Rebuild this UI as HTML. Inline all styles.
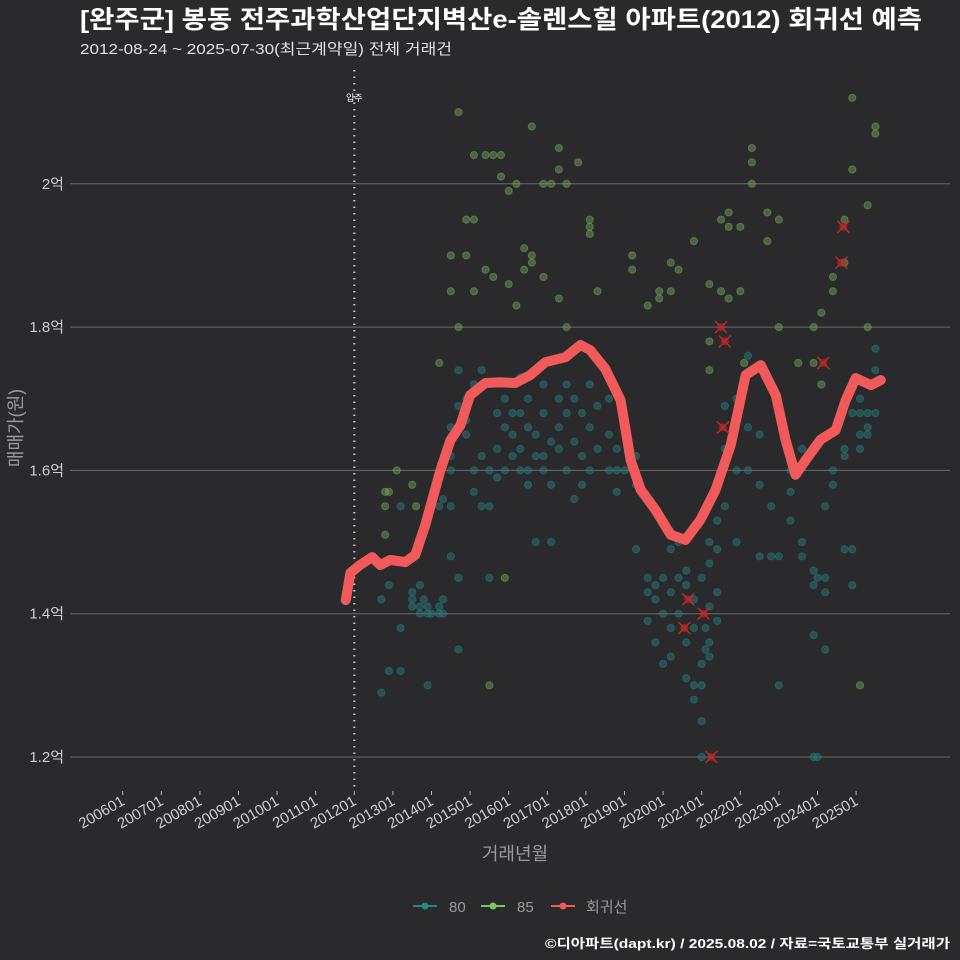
<!DOCTYPE html>
<html><head><meta charset="utf-8">
<style>
body{margin:0;background:#2a2a2c;}
svg{display:block;font-family:"Liberation Sans","Noto Sans CJK KR",sans-serif;}
</style></head>
<body>
<svg id="chart" width="960" height="960" viewBox="0 0 960 960">
<rect x="0" y="0" width="960" height="960" fill="#2a2a2c"/>
<text x="80" y="28" fill="#ffffff" font-size="25" font-weight="bold" textLength="842" lengthAdjust="spacingAndGlyphs">[완주군] 봉동 전주과학산업단지벽산e-솔렌스힐 아파트(2012) 회귀선 예측</text>
<text x="80" y="54" fill="#e0e0e0" font-size="15" textLength="372" lengthAdjust="spacingAndGlyphs">2012-08-24 ~ 2025-07-30(최근계약일) 전체 거래건</text>
<g id="grid"></g>
<g id="points"></g>
<g id="line"></g>
<g id="axes"></g>
<text transform="translate(22,428) rotate(-90)" text-anchor="middle" fill="#9a9a9a" font-size="18">매매가(원)</text>
<text x="515" y="860" text-anchor="middle" fill="#9a9a9a" font-size="18">거래년월</text>
<g>
 <g><line x1="413" y1="906" x2="437" y2="906" stroke="#2a8585" stroke-width="2"/><circle cx="425" cy="906" r="3.5" fill="#2a8585"/><text x="449" y="912" fill="#9a9a9a" font-size="15">80</text></g>
 <g><line x1="481" y1="906" x2="505" y2="906" stroke="#7cc460" stroke-width="2"/><circle cx="493" cy="906" r="3.5" fill="#7cc460"/><text x="517" y="912" fill="#9a9a9a" font-size="15">85</text></g>
 <g><line x1="551" y1="906" x2="575" y2="906" stroke="#f05a5a" stroke-width="2"/><circle cx="563" cy="906" r="3.5" fill="#f05a5a"/><text x="586" y="912" fill="#9a9a9a" font-size="15">회귀선</text></g>
</g>
<text x="950" y="948" text-anchor="end" fill="#ffffff" font-size="13" font-weight="bold" textLength="405" lengthAdjust="spacingAndGlyphs">©디아파트(dapt.kr) / 2025.08.02 / 자료=국토교통부 실거래가</text>
</svg>
<script>
const xTickLabels=["200601","200701","200801","200901","201001","201101","201201","201301","201401","201501","201601","201701","201801","201901","202001","202101","202201","202301","202401","202501"];
const yTicks=[1.2,1.4,1.6,1.8,2.0];
const yTickLabels=["1.2억","1.4억","1.6억","1.8억","2억"];
const moveInYear=2012.0;
const regYears=[2011.78,2011.9,2012.15,2012.46,2012.67,2012.93,2013.32,2013.58,2013.84,2014.23,2014.49,2014.75,2015.0,2015.4,2015.78,2016.17,2016.56,2016.95,2017.47,2017.86,2018.11,2018.5,2018.9,2019.16,2019.42,2019.8,2020.2,2020.58,2020.97,2021.36,2021.75,2022.14,2022.53,2022.92,2023.17,2023.43,2023.69,2024.08,2024.47,2024.73,2024.99,2025.38,2025.64];
const regValues=[1.419,1.457,1.468,1.479,1.468,1.475,1.472,1.482,1.524,1.6,1.642,1.663,1.705,1.722,1.723,1.722,1.733,1.751,1.758,1.775,1.768,1.742,1.698,1.614,1.573,1.545,1.51,1.503,1.531,1.573,1.635,1.733,1.747,1.705,1.643,1.594,1.614,1.643,1.656,1.698,1.729,1.719,1.726];
const area85=[[2012.8,1.55],[2012.8,1.57],[2012.8,1.51],[2013.1,1.6],[2013.5,1.58],[2013.6,1.55],[2014.2,1.75],[2014.5,1.9],[2014.5,1.85],[2014.7,2.1],[2014.7,1.8],[2014.9,1.95],[2014.9,1.9],[2015.1,2.04],[2015.1,1.95],[2015.1,1.85],[2015.4,2.04],[2015.4,1.88],[2015.6,2.04],[2015.6,1.87],[2015.8,2.04],[2015.8,2.01],[2016.0,1.99],[2016.0,1.86],[2016.2,1.83],[2016.2,2.0],[2016.4,1.91],[2016.4,1.88],[2016.6,2.08],[2016.6,1.9],[2016.6,1.89],[2016.9,2.0],[2016.9,1.87],[2017.1,2.0],[2017.3,2.05],[2017.3,2.02],[2017.3,1.84],[2017.5,2.0],[2017.5,1.8],[2017.8,2.03],[2018.1,1.95],[2018.1,1.94],[2018.1,1.93],[2018.3,1.85],[2019.2,1.9],[2019.2,1.88],[2019.6,1.83],[2019.9,1.85],[2019.9,1.84],[2020.2,1.89],[2020.2,1.85],[2020.4,1.88],[2020.8,1.92],[2021.2,1.86],[2021.2,1.74],[2021.2,1.78],[2021.5,1.95],[2021.5,1.85],[2021.7,1.96],[2021.7,1.94],[2021.7,1.84],[2022.0,1.85],[2022.0,1.94],[2022.3,2.0],[2022.3,2.05],[2022.3,2.03],[2022.7,1.92],[2022.7,1.96],[2023.0,1.95],[2023.0,1.8],[2023.5,1.75],[2023.9,1.75],[2023.9,1.8],[2024.1,1.82],[2024.1,1.72],[2024.4,1.85],[2024.4,1.87],[2024.7,1.95],[2024.7,1.89],[2024.9,2.12],[2024.9,2.02],[2025.3,1.97],[2025.3,1.8],[2025.5,2.08],[2025.5,2.07],[2022.1,1.75],[2015.9,1.45],[2015.5,1.3],[2025.1,1.3],[2012.9,1.57]];
const area80=[[2012.7,1.42],[2012.7,1.29],[2012.9,1.32],[2012.9,1.44],[2013.2,1.32],[2013.2,1.38],[2013.2,1.55],[2013.5,1.41],[2013.5,1.42],[2013.5,1.43],[2013.7,1.41],[2013.7,1.40],[2013.7,1.44],[2013.8,1.42],[2013.9,1.40],[2013.9,1.41],[2013.9,1.30],[2014.0,1.55],[2014.0,1.40],[2014.2,1.40],[2014.2,1.41],[2014.2,1.55],[2014.3,1.40],[2014.3,1.42],[2014.3,1.56],[2014.5,1.6],[2014.5,1.62],[2014.5,1.66],[2014.5,1.55],[2014.5,1.48],[2014.7,1.74],[2014.7,1.69],[2014.7,1.35],[2014.7,1.45],[2014.9,1.70],[2014.9,1.67],[2014.9,1.65],[2015.1,1.57],[2015.1,1.60],[2015.1,1.72],[2015.3,1.55],[2015.3,1.62],[2015.3,1.74],[2015.5,1.55],[2015.5,1.60],[2015.5,1.45],[2015.7,1.68],[2015.7,1.63],[2015.7,1.59],[2015.9,1.70],[2015.9,1.66],[2015.9,1.60],[2016.1,1.68],[2016.1,1.62],[2016.1,1.65],[2016.3,1.63],[2016.3,1.60],[2016.3,1.68],[2016.3,1.73],[2016.5,1.70],[2016.5,1.60],[2016.5,1.58],[2016.5,1.66],[2016.7,1.65],[2016.7,1.50],[2016.7,1.62],[2016.7,1.74],[2016.9,1.68],[2016.9,1.60],[2016.9,1.72],[2016.9,1.62],[2017.1,1.64],[2017.1,1.58],[2017.1,1.50],[2017.3,1.66],[2017.3,1.70],[2017.3,1.63],[2017.5,1.60],[2017.5,1.68],[2017.5,1.72],[2017.7,1.64],[2017.7,1.70],[2017.7,1.56],[2017.9,1.68],[2017.9,1.62],[2017.9,1.58],[2018.1,1.72],[2018.1,1.66],[2018.1,1.60],[2018.3,1.69],[2018.3,1.63],[2018.6,1.70],[2018.6,1.65],[2018.6,1.60],[2018.8,1.60],[2018.8,1.63],[2018.8,1.57],[2019.0,1.66],[2019.0,1.60],[2019.3,1.49],[2019.3,1.58],[2019.3,1.62],[2019.6,1.45],[2019.6,1.39],[2019.6,1.43],[2019.8,1.44],[2019.8,1.36],[2019.8,1.42],[2020.0,1.45],[2020.0,1.40],[2020.0,1.33],[2020.2,1.43],[2020.2,1.38],[2020.2,1.34],[2020.2,1.49],[2020.4,1.45],[2020.4,1.50],[2020.4,1.40],[2020.6,1.31],[2020.6,1.36],[2020.6,1.44],[2020.6,1.46],[2020.8,1.28],[2020.8,1.30],[2020.8,1.38],[2020.8,1.42],[2021.0,1.20],[2021.0,1.25],[2021.0,1.30],[2021.0,1.33],[2021.1,1.35],[2021.1,1.38],[2021.0,1.45],[2021.2,1.41],[2021.2,1.36],[2021.2,1.34],[2021.2,1.47],[2021.2,1.50],[2021.4,1.39],[2021.4,1.43],[2021.4,1.49],[2021.4,1.53],[2021.4,1.58],[2021.6,1.69],[2021.6,1.63],[2021.6,1.55],[2021.9,1.70],[2021.9,1.60],[2021.9,1.50],[2022.2,1.76],[2022.2,1.66],[2022.2,1.60],[2022.5,1.48],[2022.5,1.58],[2022.5,1.65],[2022.8,1.48],[2022.8,1.55],[2023.0,1.30],[2023.0,1.48],[2023.3,1.53],[2023.3,1.60],[2023.3,1.57],[2023.6,1.50],[2023.6,1.48],[2023.6,1.63],[2023.9,1.37],[2023.9,1.20],[2023.9,1.44],[2023.9,1.46],[2024.0,1.20],[2024.0,1.45],[2024.2,1.43],[2024.2,1.45],[2024.2,1.55],[2024.2,1.35],[2024.4,1.58],[2024.4,1.60],[2024.7,1.49],[2024.7,1.63],[2024.7,1.62],[2024.9,1.44],[2024.9,1.49],[2024.9,1.68],[2025.1,1.65],[2025.1,1.63],[2025.1,1.68],[2025.1,1.70],[2025.3,1.66],[2025.3,1.72],[2025.3,1.65],[2025.3,1.68],[2025.5,1.77],[2025.5,1.74],[2025.5,1.68]];
const outliers=[[2020.65,1.42],[2020.55,1.38],[2021.05,1.40],[2021.25,1.20],[2021.5,1.80],[2021.6,1.78],[2021.55,1.66],[2024.15,1.75],[2024.62,1.89],[2024.67,1.94]];

const NS="http://www.w3.org/2000/svg";
function xs(yr){return 122.7+(yr-2006)*38.6;}
function ys(v){return 757-(v-1.2)/0.2*143.3;}
function mk(tag,attrs,parent){const e=document.createElementNS(NS,tag);for(const k in attrs)e.setAttribute(k,attrs[k]);parent.appendChild(e);return e;}
const grid=document.getElementById('grid'),axes=document.getElementById('axes'),pts=document.getElementById('points'),lg=document.getElementById('line');
yTicks.forEach((t,i)=>{
  const l=mk('line',{x1:70,x2:950,y1:ys(t),y2:ys(t),stroke:'#6a6a6a','stroke-width':1},grid);
  
  
  const tx=mk('text',{x:64,y:ys(t)+5,'text-anchor':'end',fill:'#cfcfcf','font-size':15},axes);
  tx.textContent=yTickLabels[i];
  
  
});
xTickLabels.forEach((lab,i)=>{
  const yr=2006+i,x=xs(yr);
  const tk=mk('line',{x1:x,x2:x,y1:791,y2:795,stroke:'#bbbbbb','stroke-width':1},axes);
  
  
  const tx=mk('text',{transform:`translate(${x+3},${804}) rotate(-30)`,'text-anchor':'end',fill:'#cfcfcf','font-size':15},axes);
  tx.textContent=lab;
  
  
});
const mv=mk('line',{x1:xs(moveInYear),x2:xs(moveInYear),y1:70,y2:790,stroke:'#cccccc','stroke-width':2,'stroke-dasharray':'1.5 5'},grid);


const mvt=mk('text',{x:xs(moveInYear),y:101,'text-anchor':'middle',fill:'#ffffff','font-size':9},grid);
mvt.textContent='입주';


area80.forEach(p=>{
  const c=mk('circle',{cx:xs(p[0]),cy:ys(p[1]),r:3.6,fill:'rgba(35,120,120,0.5)',stroke:'rgba(45,140,140,0.4)','stroke-width':1},pts);
  
  
});
area85.forEach(p=>{
  const c=mk('circle',{cx:xs(p[0]),cy:ys(p[1]),r:3.6,fill:'rgba(110,170,85,0.45)',stroke:'rgba(130,190,95,0.4)','stroke-width':1},pts);
  
  
});
const d=regYears.map((y,i)=>(i?'L':'M')+xs(y).toFixed(1)+' '+ys(regValues[i]).toFixed(1)).join(' ');
const pl=mk('path',{d:d,fill:'none',stroke:'#f05a5a','stroke-width':10,'stroke-linejoin':'round','stroke-linecap':'round'},lg);


outliers.forEach(p=>{
  const x=xs(p[0]),y=ys(p[1]);
  const g=mk('g',{},lg);
  
  
  mk('circle',{cx:x,cy:y,r:4,fill:'rgba(200,40,40,0.6)'},g);
  mk('path',{d:`M${x-6} ${y-6}L${x+6} ${y+6}M${x-6} ${y+6}L${x+6} ${y-6}`,stroke:'#c02828','stroke-width':1.5},g);
});
</script>
</body></html>
